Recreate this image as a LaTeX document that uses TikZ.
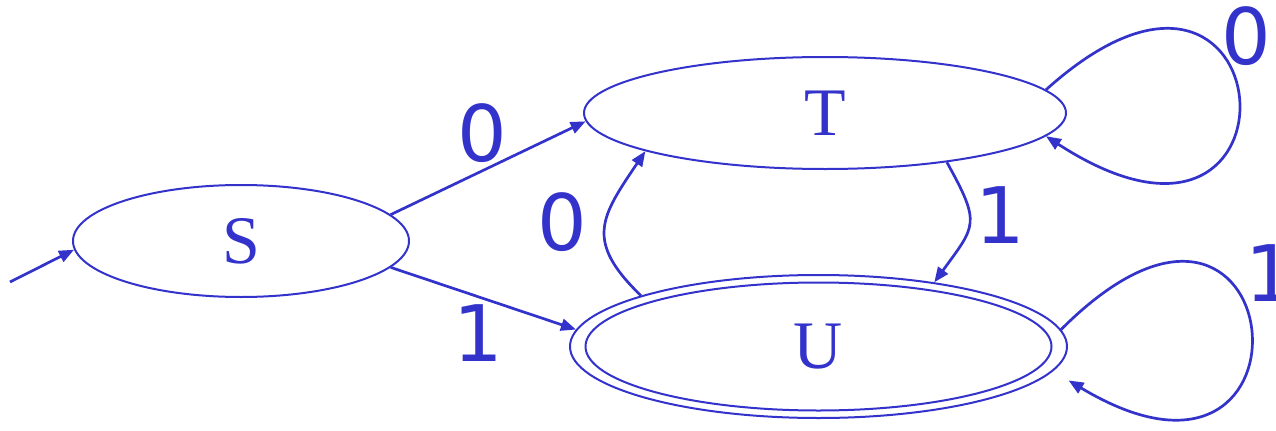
\documentclass[tikz,border=0pt]{standalone}
\usepackage{fontspec}
\usetikzlibrary{shapes.geometric, arrows.meta, positioning}
\newfontfamily\statefont{Liberation Serif}
\newfontfamily\labelfont{DejaVu Sans}
\definecolor{fsmblue}{HTML}{3333CC}

\begin{document}
\begin{tikzpicture}[
  x=0.5pt, y=0.5pt,
  state/.style={ellipse, draw=fsmblue, line width=1pt, inner sep=0pt,
                text=fsmblue, font=\statefont\fontsize{34}{34}\selectfont},
  sym/.style={text=fsmblue, inner sep=0pt, font=\labelfont\fontsize{39}{39}\selectfont},
  arrow/.style={-{Triangle[length=7.5pt, width=6pt]}, line width=1.35pt, fsmblue}
]
\useasboundingbox (0,0) rectangle (1276,430);

% States
\node[state, minimum width=168pt, minimum height=56pt] (S) at (241,189) {S};
\node[state, minimum width=241pt, minimum height=56pt] (T) at (825,317) {T};
\node[state, minimum width=248.5pt, minimum height=71.5pt] (U) at (818.5,83.5) {U};
\draw[fsmblue, line width=1pt] (U.center) ellipse [x radius=116.5pt, y radius=32pt];

% Start
\coordinate (start) at (10,148);

% Transitions
\draw[arrow] (start) -- (S.183);
\draw[arrow] (S.10) -- (T.182);
\draw[arrow] (S.-10) -- (U.176);
\draw[arrow] (T.-22) to[out=-61, in=54, looseness=1.5] (U.29);
\draw[arrow] (U.164) to[out=136, in=-124, looseness=1.4] (T.192);

% Loops
\draw[arrow] (T.6) to[out=42, in=-33, distance=162pt] (T.-6.5);
\draw[arrow, shorten >=9pt] (U.4) to[out=45, in=-31, distance=163pt] (U.-6);

% Labels
\node[sym] (l0a) at (482,297) {0};
\node[sym] (l1a) at (478,97) {1};
\node[sym] (l0b) at (562,208) {0};
\node[sym] (l1b) at (1000,215) {1};
\node[sym] (l0c) at (1246,394) {0};
\node[sym] (l1c) at (1270,157) {1};

\end{tikzpicture}
\end{document}
